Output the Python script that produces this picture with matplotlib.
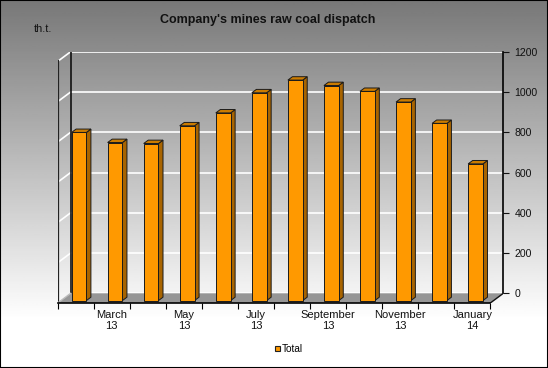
import numpy as np
import matplotlib.pyplot as plt
from matplotlib.patches import Polygon, Rectangle, Patch

plt.rcParams['font.family'] = ['Liberation Sans', 'DejaVu Sans']

# data: raw coal dispatch, th.t., Feb 2013 - Jan 2014
months = ['February', 'March', 'April', 'May', 'June', 'July', 'August',
          'September', 'October', 'November', 'December', 'January']
years = ['13', '13', '13', '13', '13', '13', '13', '13', '13', '13', '13', '14']
values = [835, 785, 780, 868, 932, 1032, 1095, 1068, 1039, 986, 880, 679]
y_ticks = [0, 200, 400, 600, 800, 1000, 1200]

W, H = 548, 368
N = len(values)
YMAX = 1200
DX, DY = 0.36, 48       # depth offset of the back wall (categories, units)
BAR_W = 0.41
BAR_D0, BAR_D1 = 0.25, 0.6   # bar depth range (fraction of floor depth)

ORANGE = '#ff9900'
SIDE = '#a86400'
TOP = '#cc7c00'
FLOOR = '#969696'


def px_box(x0, y0, x1, y1):
    # pixel box (y from top) -> figure fraction rect
    return [x0 / W, 1 - y1 / H, (x1 - x0) / W, (y1 - y0) / H]


fig = plt.figure(figsize=(W / 100, H / 100), dpi=100)

# background gradient
bg = fig.add_axes([0, 0, 1, 1], zorder=0)
grad = np.clip(np.linspace(0.47, 1.08, 200), 0, 1).reshape(-1, 1)
bg.imshow(grad, cmap='gray', vmin=0, vmax=1, aspect='auto',
          extent=[0, 1, 0, 1], origin='upper')
bg.axis('off')

# front plane axes (floor front edge, bars)
left, top, right, bottom = 57.7, 51.7, 503.3, 303
ax = fig.add_axes(px_box(left, top, right, bottom), zorder=2)
ax.set_xlim(0, N + DX)
ax.set_ylim(0, YMAX + DY)
ax.patch.set_alpha(0)

# back wall axes with value scale on the right
px_per_cat = (right - left) / (N + DX)
px_per_val = (bottom - top) / (YMAX + DY)
axr = fig.add_axes(px_box(left + DX * px_per_cat, top, right,
                          bottom - DY * px_per_val), zorder=1)
axr.set_xlim(0, N)
axr.set_ylim(0, YMAX)
axr.patch.set_alpha(0)
axr.set_yticks(y_ticks)
axr.yaxis.tick_right()
axr.set_xticks([])
axr.tick_params(axis='y', direction='out', length=4, width=0.8, pad=4,
                labelsize=7.6, colors='#111111')
axr.grid(axis='y', color='white', linewidth=1.2)
for s in ['left', 'top', 'bottom']:
    axr.spines[s].set_visible(False)
axr.spines['right'].set_linewidth(1.2)

# left side wall
for t in y_ticks[1:]:
    ax.plot([0, DX], [t, t + DY], color='white', lw=1.2, zorder=1)
ax.plot([0, 0], [0, YMAX], color='#222222', lw=1.6, zorder=1)
ax.plot([DX, DX], [DY, YMAX + DY], color='#111111', lw=1.2, zorder=1)

# floor
ax.add_patch(Polygon([(0, 0), (N, 0), (N + DX, DY), (DX, DY)],
                     closed=True, fc=FLOOR, ec='none', zorder=2))
ax.plot([N, N + DX], [0, DY], color='#111111', lw=1.0, zorder=2)
ax.plot([0, DX], [0, DY], color='#bbbbbb', lw=1.0, zorder=2)

# 3d bars
for i, v in enumerate(values):
    x0 = i + 0.5 - BAR_W / 2 + BAR_D0 * DX
    x1 = x0 + BAR_W
    y0 = BAR_D0 * DY
    y1 = v + y0
    ddx = (BAR_D1 - BAR_D0) * DX
    ddy = (BAR_D1 - BAR_D0) * DY
    kw = dict(closed=True, ec='#1a1a1a', lw=0.7, zorder=3, joinstyle='miter')
    ax.add_patch(Polygon([(x1, y0), (x1 + ddx, y0 + ddy), (x1 + ddx, y1 + ddy),
                          (x1, y1)], fc=SIDE, **kw))
    ax.add_patch(Polygon([(x0, y1), (x1, y1), (x1 + ddx, y1 + ddy),
                          (x0 + ddx, y1 + ddy)], fc=TOP, **kw))
    ax.add_patch(Polygon([(x0, y0), (x1, y0), (x1, y1), (x0, y1)],
                         fc=ORANGE, **kw))

# category axis on the front edge
ax.set_yticks([])
ax.set_xticks(np.arange(N + 1))
ax.set_xticklabels([])
ax.set_xticks([i + 0.5 for i in range(1, N, 2)], minor=True)
ax.set_xticklabels([f'{months[i]}\n{years[i]}' for i in range(1, N, 2)],
                   minor=True, fontsize=8, linespacing=1.1, color='#111111')
ax.tick_params(axis='x', which='major', direction='out', length=4, width=0.8)
ax.tick_params(axis='x', which='minor', length=0, pad=5)
for s in ['left', 'top', 'right']:
    ax.spines[s].set_visible(False)
ax.spines['bottom'].set_bounds(0, N)
ax.spines['bottom'].set_linewidth(1.2)

# texts
fig.text(267.5 / W, 1 - 19.5 / H, "Company's mines raw coal dispatch",
         ha='center', va='center', fontsize=9, fontweight='bold',
         color='#111111')
fig.text(43 / W, 1 - 29 / H, 'th.t.', ha='center', va='center',
         fontsize=7.8, color='#111111')

# legend
fig.patches.append(Rectangle((213 / W, 1 - 358 / H), 149 / W, 18 / H,
                             transform=fig.transFigure, fc='white',
                             ec='none', zorder=3))
leg = fig.legend(handles=[Patch(fc=ORANGE, ec='#222222', lw=0.8)],
                 labels=['Total'], loc='center',
                 bbox_to_anchor=(289 / W, 1 - 349 / H), frameon=False,
                 handlelength=0.5, handleheight=0.5, handletextpad=0.25,
                 fontsize=7.2, borderpad=0)
leg.set_zorder(4)

# outer border
fig.patches.append(Rectangle((0, 0), 1, 1, transform=fig.transFigure,
                             fill=False, ec='black', lw=1.5, zorder=10))

fig.savefig('out.png', dpi=100)
